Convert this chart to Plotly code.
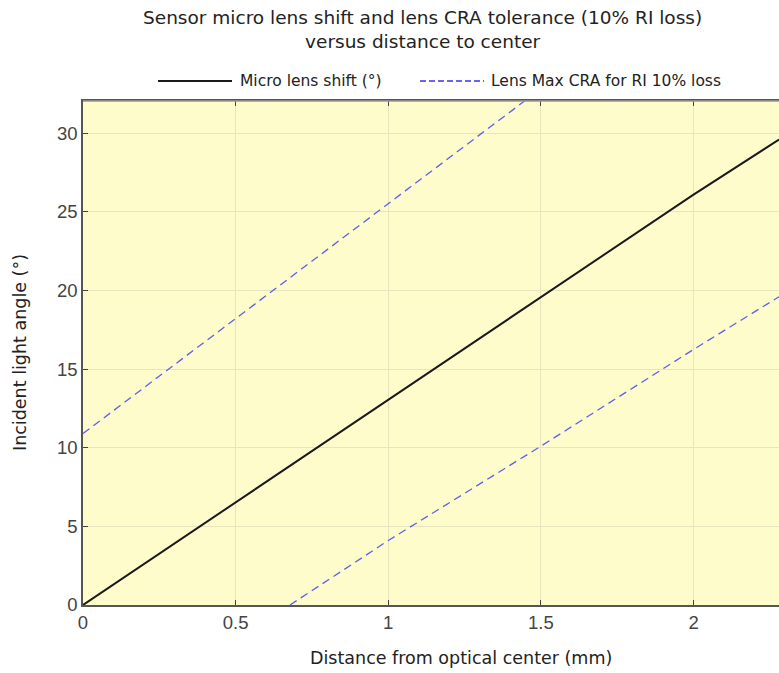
import plotly.graph_objects as go

# Data
shift_x = [0.0, 1.0, 2.0, 2.28]
shift_y = [0.0, 13.05, 26.1, 29.6]

cra_upper_x = [0.0, 0.5, 1.0, 1.45]
cra_upper_y = [10.9, 18.2, 25.5, 32.1]

cra_lower_x = [0.678, 1.0, 1.5, 2.0, 2.28]
cra_lower_y = [0.0, 4.1, 10.1, 16.25, 19.6]

x_ticks = [0, 0.5, 1, 1.5, 2]
x_tick_labels = ["0", "0.5", "1", "1.5", "2"]
y_ticks = [0, 5, 10, 15, 20, 25, 30]
y_tick_labels = ["0", "5", "10", "15", "20", "25", "30"]

series_names = ["Micro lens shift (°)", "Lens Max CRA for RI 10% loss"]
title_text = "Sensor micro lens shift and lens CRA tolerance (10% RI loss)<br>versus distance to center"
x_title = "Distance from optical center (mm)"
y_title = "Incident light angle (°)"

W, H = 779, 673
L, R, T, B = 83, 0, 101, 68
pw, ph = W - L - R, H - T - B

def px(xp):
    return (xp - L) / pw

def py(yp):
    return (H - B - yp) / ph

BLACK = "#1a1a1a"
BLUE = "rgb(95,95,235)"
FONT = "DejaVu Sans"

fig = go.Figure()
fig.add_trace(go.Scatter(x=shift_x, y=shift_y, mode="lines", name=series_names[0],
                         line=dict(color=BLACK, width=2), showlegend=False))
fig.add_trace(go.Scatter(x=cra_upper_x, y=cra_upper_y, mode="lines", name=series_names[1],
                         line=dict(color=BLUE, width=1.3, dash="8px,5px"), showlegend=False))
fig.add_trace(go.Scatter(x=cra_lower_x, y=cra_lower_y, mode="lines", name=series_names[1],
                         line=dict(color=BLUE, width=1.3, dash="8px,5px"), showlegend=False))

shapes = [
    dict(type="line", xref="paper", yref="paper", x0=px(158), x1=px(232), y0=py(81), y1=py(81),
         line=dict(color=BLACK, width=2)),
    dict(type="line", xref="paper", yref="paper", x0=px(420), x1=px(484), y0=py(81), y1=py(81),
         line=dict(color="#3333ee", width=1.3, dash="6px,3px")),
    # top border of the plot box (lighter grey)
    dict(type="line", xref="paper", yref="paper", x0=0, x1=1, y0=1, y1=1,
         line=dict(color="#999", width=1.5)),
]

annotations = [
    dict(text=title_text, xref="paper", yref="paper", x=px(422), y=py(5), xanchor="center",
         yanchor="top", showarrow=False, font=dict(family=FONT, size=18.5, color="#222")),
    dict(text=series_names[0], xref="paper", yref="paper", x=px(238), y=py(81), xanchor="left",
         yanchor="middle", showarrow=False, font=dict(family=FONT, size=15.5, color="#222")),
    dict(text=series_names[1], xref="paper", yref="paper", x=px(489), y=py(81), xanchor="left",
         yanchor="middle", showarrow=False, font=dict(family=FONT, size=15.5, color="#222")),
    dict(text=x_title, xref="paper", yref="paper", x=px(461), y=py(658), xanchor="center",
         yanchor="middle", showarrow=False, font=dict(family=FONT, size=17.5, color="#222")),
    dict(text=y_title, xref="paper", yref="paper", x=px(20), y=py(353), xanchor="center",
         yanchor="middle", showarrow=False, textangle=-90, font=dict(family=FONT, size=17.5, color="#222")),
]

fig.update_layout(
    width=W, height=H,
    margin=dict(l=L, r=R, t=T, b=B),
    paper_bgcolor="white",
    plot_bgcolor="rgb(255,252,204)",
    showlegend=False,
    shapes=shapes,
    annotations=annotations,
)

fig.update_xaxes(range=[0, 2.28], tickvals=x_ticks, ticktext=x_tick_labels,
                 showgrid=True, gridcolor="rgb(232,228,190)", gridwidth=1,
                 showline=True, linecolor="#555", linewidth=1.5, mirror="ticks",
                 ticks="inside", ticklen=5, tickcolor="#444",
                 tickfont=dict(family="Liberation Sans", size=18.5, color="#444"),
                 zeroline=False)
fig.update_yaxes(range=[0, 32.05], tickvals=y_ticks, ticktext=y_tick_labels,
                 showgrid=True, gridcolor="rgb(232,228,190)", gridwidth=1,
                 showline=True, linecolor="#555", linewidth=1.5,
                 ticks="inside", ticklen=5, tickcolor="#444",
                 tickfont=dict(family="Liberation Sans", size=18.5, color="#444"),
                 zeroline=False)

fig.write_html("out.html", config={"displayModeBar": False},
               post_script="document.body.style.margin='0';document.body.style.overflow='hidden';")
